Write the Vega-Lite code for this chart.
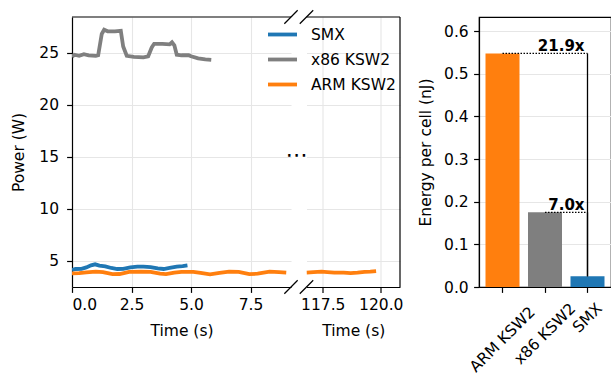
{
  "$schema": "https://vega.github.io/schema/vega-lite/v6.json",
  "padding": {"left": 11, "top": 9, "right": 0, "bottom": 0},
  "config": {
    "font": "DejaVu Sans",
    "view": {"stroke": null},
    "axis": {
      "labelFont": "DejaVu Sans", "titleFont": "DejaVu Sans",
      "labelFontSize": 15.5, "titleFontSize": 15.5,
      "labelColor": "#000", "titleColor": "#000", "titleFontWeight": "normal",
      "domainColor": "#000", "tickColor": "#000", "domainWidth": 1.2, "tickWidth": 1.2,
      "tickSize": 5.4, "labelPadding": 5.4, "titlePadding": 10,
      "gridColor": "#e6e6e6", "gridWidth": 1.1
    },
    "legend": {"labelFont": "DejaVu Sans", "labelFontSize": 15.5, "labelColor": "#000"}
  },
  "datasets": {
    "power": [
      {"series": "SMX", "time": 0.00, "power": 4.10},
      {"series": "SMX", "time": 0.15, "power": 4.20},
      {"series": "SMX", "time": 0.40, "power": 4.22},
      {"series": "SMX", "time": 0.60, "power": 4.35},
      {"series": "SMX", "time": 0.80, "power": 4.55},
      {"series": "SMX", "time": 0.97, "power": 4.65},
      {"series": "SMX", "time": 1.15, "power": 4.52},
      {"series": "SMX", "time": 1.40, "power": 4.45},
      {"series": "SMX", "time": 1.65, "power": 4.30},
      {"series": "SMX", "time": 1.90, "power": 4.20},
      {"series": "SMX", "time": 2.15, "power": 4.22},
      {"series": "SMX", "time": 2.45, "power": 4.35},
      {"series": "SMX", "time": 2.75, "power": 4.42},
      {"series": "SMX", "time": 3.00, "power": 4.43},
      {"series": "SMX", "time": 3.30, "power": 4.38},
      {"series": "SMX", "time": 3.60, "power": 4.25},
      {"series": "SMX", "time": 3.85, "power": 4.20},
      {"series": "SMX", "time": 4.10, "power": 4.30},
      {"series": "SMX", "time": 4.40, "power": 4.42},
      {"series": "SMX", "time": 4.65, "power": 4.48},
      {"series": "SMX", "time": 4.85, "power": 4.55},
      {"series": "x86 KSW2", "time": 0.00, "power": 24.60},
      {"series": "x86 KSW2", "time": 0.10, "power": 24.80},
      {"series": "x86 KSW2", "time": 0.30, "power": 24.70},
      {"series": "x86 KSW2", "time": 0.50, "power": 24.85},
      {"series": "x86 KSW2", "time": 0.70, "power": 24.75},
      {"series": "x86 KSW2", "time": 1.00, "power": 24.70},
      {"series": "x86 KSW2", "time": 1.10, "power": 24.75},
      {"series": "x86 KSW2", "time": 1.25, "power": 26.80},
      {"series": "x86 KSW2", "time": 1.35, "power": 27.20},
      {"series": "x86 KSW2", "time": 1.50, "power": 27.05},
      {"series": "x86 KSW2", "time": 1.80, "power": 27.05},
      {"series": "x86 KSW2", "time": 2.05, "power": 27.10},
      {"series": "x86 KSW2", "time": 2.15, "power": 25.60},
      {"series": "x86 KSW2", "time": 2.30, "power": 24.70},
      {"series": "x86 KSW2", "time": 2.60, "power": 24.60},
      {"series": "x86 KSW2", "time": 3.00, "power": 24.55},
      {"series": "x86 KSW2", "time": 3.20, "power": 24.65},
      {"series": "x86 KSW2", "time": 3.35, "power": 25.50},
      {"series": "x86 KSW2", "time": 3.45, "power": 25.85},
      {"series": "x86 KSW2", "time": 3.80, "power": 25.85},
      {"series": "x86 KSW2", "time": 4.10, "power": 25.80},
      {"series": "x86 KSW2", "time": 4.20, "power": 26.00},
      {"series": "x86 KSW2", "time": 4.30, "power": 25.70},
      {"series": "x86 KSW2", "time": 4.40, "power": 24.80},
      {"series": "x86 KSW2", "time": 4.60, "power": 24.75},
      {"series": "x86 KSW2", "time": 4.90, "power": 24.75},
      {"series": "x86 KSW2", "time": 5.00, "power": 24.65},
      {"series": "x86 KSW2", "time": 5.30, "power": 24.45},
      {"series": "x86 KSW2", "time": 5.60, "power": 24.35},
      {"series": "x86 KSW2", "time": 5.85, "power": 24.30},
      {"series": "ARM KSW2", "time": 0.00, "power": 3.78},
      {"series": "ARM KSW2", "time": 0.30, "power": 3.80},
      {"series": "ARM KSW2", "time": 0.60, "power": 3.88},
      {"series": "ARM KSW2", "time": 1.00, "power": 3.95},
      {"series": "ARM KSW2", "time": 1.30, "power": 3.90},
      {"series": "ARM KSW2", "time": 1.70, "power": 3.70},
      {"series": "ARM KSW2", "time": 2.00, "power": 3.72},
      {"series": "ARM KSW2", "time": 2.40, "power": 3.92},
      {"series": "ARM KSW2", "time": 2.90, "power": 3.95},
      {"series": "ARM KSW2", "time": 3.30, "power": 3.92},
      {"series": "ARM KSW2", "time": 3.70, "power": 3.75},
      {"series": "ARM KSW2", "time": 3.95, "power": 3.70},
      {"series": "ARM KSW2", "time": 4.30, "power": 3.85},
      {"series": "ARM KSW2", "time": 4.60, "power": 3.93},
      {"series": "ARM KSW2", "time": 5.10, "power": 3.93},
      {"series": "ARM KSW2", "time": 5.40, "power": 3.82},
      {"series": "ARM KSW2", "time": 5.80, "power": 3.69},
      {"series": "ARM KSW2", "time": 6.20, "power": 3.82},
      {"series": "ARM KSW2", "time": 6.60, "power": 3.95},
      {"series": "ARM KSW2", "time": 7.00, "power": 3.93},
      {"series": "ARM KSW2", "time": 7.45, "power": 3.70},
      {"series": "ARM KSW2", "time": 7.80, "power": 3.75},
      {"series": "ARM KSW2", "time": 8.30, "power": 3.95},
      {"series": "ARM KSW2", "time": 8.70, "power": 3.90},
      {"series": "ARM KSW2", "time": 9.00, "power": 3.85},
      {"series": "ARM KSW2", "time": 116.80, "power": 3.85},
      {"series": "ARM KSW2", "time": 117.10, "power": 3.90},
      {"series": "ARM KSW2", "time": 117.45, "power": 3.95},
      {"series": "ARM KSW2", "time": 117.70, "power": 3.90},
      {"series": "ARM KSW2", "time": 118.00, "power": 3.85},
      {"series": "ARM KSW2", "time": 118.40, "power": 3.85},
      {"series": "ARM KSW2", "time": 118.70, "power": 3.80},
      {"series": "ARM KSW2", "time": 119.00, "power": 3.85},
      {"series": "ARM KSW2", "time": 119.30, "power": 3.92},
      {"series": "ARM KSW2", "time": 119.55, "power": 3.95},
      {"series": "ARM KSW2", "time": 119.80, "power": 4.00}
    ],
    "energy": [
      {"name": "ARM KSW2", "energy": 0.5475},
      {"name": "x86 KSW2", "energy": 0.175},
      {"name": "SMX", "energy": 0.025}
    ],
    "ratios": [
      {"from": "ARM KSW2", "to": "SMX", "level": 0.5475, "base": 0.025, "label": "21.9x"},
      {"from": "x86 KSW2", "to": "SMX", "level": 0.175, "base": 0.025, "label": "7.0x"}
    ]
  },
  "resolve": {"legend": {"color": "independent"}},
  "spacing": 14,
  "hconcat": [
    {
      "bounds": "flush",
      "spacing": 15.5,
      "resolve": {"legend": {"color": "independent"}},
      "hconcat": [
        {
          "width": 219,
          "height": 270,
          "layer": [
            {
              "data": {"name": "power"},
              "transform": [{"filter": "datum.time < 50"}],
              "mark": {"type": "line", "strokeWidth": 3.8, "clip": true},
              "encoding": {
                "x": {"field": "time", "type": "quantitative",
                  "scale": {"domain": [0, 9.2], "nice": false, "zero": false},
                  "axis": {"values": [0, 2.5, 5, 7.5], "format": ".1f", "title": "Time (s)", "grid": true}},
                "y": {"field": "power", "type": "quantitative",
                  "scale": {"domain": [2.47, 28.43], "nice": false, "zero": false},
                  "axis": {"values": [5, 10, 15, 20, 25], "title": "Power (W)", "grid": true, "labelPadding": 8, "titlePadding": 12}},
                "color": {"field": "series", "type": "nominal",
                  "scale": {"domain": ["SMX", "x86 KSW2", "ARM KSW2"], "range": ["#1f77b4", "#7f7f7f", "#ff7f0e"]},
                  "legend": null}
              }
            },
            {
              "data": {"values": [{}]},
              "mark": {"type": "rule", "color": "#000", "strokeWidth": 1.2},
              "encoding": {"x": {"datum": 0, "type": "quantitative"}, "x2": {"datum": 9.2}, "y": {"datum": 28.43, "type": "quantitative"}}
            },
            {
              "data": {"values": [{}]},
              "mark": {"type": "rule", "color": "#000", "strokeWidth": 1.2},
              "encoding": {"x": {"datum": 8.92, "type": "quantitative"}, "x2": {"datum": 9.48}, "y": {"datum": 1.82, "type": "quantitative"}, "y2": {"datum": 3.12}}
            },
            {
              "data": {"values": [{}]},
              "mark": {"type": "rule", "color": "#000", "strokeWidth": 1.2},
              "encoding": {"x": {"datum": 8.92, "type": "quantitative"}, "x2": {"datum": 9.48}, "y": {"datum": 27.78, "type": "quantitative"}, "y2": {"datum": 29.08}}
            },
            {
              "data": {"values": [{}]},
              "mark": {"type": "text", "text": "⋯", "fontSize": 22, "color": "#000", "align": "center", "baseline": "middle", "dx": 5.5, "dy": -2},
              "encoding": {"x": {"datum": 9.2, "type": "quantitative"}, "y": {"datum": 15, "type": "quantitative"}}
            }
          ]
        },
        {
          "width": 93.5,
          "height": 270,
          "layer": [
            {
              "data": {"name": "power"},
              "transform": [{"filter": "datum.time > 50"}],
              "mark": {"type": "line", "strokeWidth": 3.8, "clip": true},
              "encoding": {
                "x": {"field": "time", "type": "quantitative",
                  "scale": {"domain": [116.8, 120.83], "nice": false, "zero": false},
                  "axis": {"values": [117.5, 120], "format": ".1f", "title": "Time (s)", "grid": true}},
                "y": {"field": "power", "type": "quantitative",
                  "scale": {"domain": [2.47, 28.43], "nice": false, "zero": false},
                  "axis": {"values": [5, 10, 15, 20, 25], "title": null, "labels": false, "ticks": false, "domain": false, "grid": true}},
                "color": {"field": "series", "type": "nominal",
                  "scale": {"domain": ["SMX", "x86 KSW2", "ARM KSW2"], "range": ["#1f77b4", "#7f7f7f", "#ff7f0e"]},
                  "legend": {"title": null, "orient": "none", "legendX": -40.5, "legendY": 1,
                    "symbolType": "stroke", "symbolSize": 841, "symbolStrokeWidth": 3.8,
                    "labelOffset": 12, "rowPadding": -7, "padding": 0}}
              }
            },
            {
              "data": {"values": [{}]},
              "mark": {"type": "rule", "color": "#000", "strokeWidth": 1.2},
              "encoding": {"x": {"datum": 116.8, "type": "quantitative"}, "x2": {"datum": 120.83}, "y": {"datum": 28.43, "type": "quantitative"}}
            },
            {
              "data": {"values": [{}]},
              "mark": {"type": "rule", "color": "#000", "strokeWidth": 1.2},
              "encoding": {"x": {"datum": 120.83, "type": "quantitative"}, "y": {"datum": 2.47, "type": "quantitative"}, "y2": {"datum": 28.43}}
            },
            {
              "data": {"values": [{}]},
              "mark": {"type": "rule", "color": "#000", "strokeWidth": 1.2},
              "encoding": {"x": {"datum": 116.51, "type": "quantitative"}, "x2": {"datum": 117.09}, "y": {"datum": 1.82, "type": "quantitative"}, "y2": {"datum": 3.12}}
            },
            {
              "data": {"values": [{}]},
              "mark": {"type": "rule", "color": "#000", "strokeWidth": 1.2},
              "encoding": {"x": {"datum": 116.51, "type": "quantitative"}, "x2": {"datum": 117.09}, "y": {"datum": 27.78, "type": "quantitative"}, "y2": {"datum": 29.08}}
            }
          ]
        }
      ]
    },
    {
      "width": 132,
      "height": 270,
      "view": {"stroke": "#000", "strokeWidth": 1.2},
      "layer": [
        {
          "data": {"name": "energy"},
          "mark": {"type": "bar"},
          "encoding": {
            "x": {"field": "name", "type": "nominal", "sort": null,
              "scale": {"domain": ["ARM KSW2", "x86 KSW2", "SMX"], "paddingInner": 0.2, "paddingOuter": 0.153},
              "axis": {"title": null, "labelAngle": -45, "labelAlign": "center", "labelBaseline": "middle",
                "labelOverlap": false, "labelBound": false, "grid": false,
                "labelPadding": {"condition": [{"test": "datum.value === 'ARM KSW2'", "value": 46.5}, {"test": "datum.value === 'x86 KSW2'", "value": 41}], "value": 25}}},
            "y": {"field": "energy", "type": "quantitative",
              "scale": {"domain": [0, 0.633], "nice": false},
              "axis": {"values": [0, 0.1, 0.2, 0.3, 0.4, 0.5, 0.6], "format": ".1f", "title": "Energy per cell (nJ)", "grid": true}},
            "color": {"field": "name", "type": "nominal",
              "scale": {"domain": ["SMX", "x86 KSW2", "ARM KSW2"], "range": ["#1f77b4", "#7f7f7f", "#ff7f0e"]},
              "legend": null}
          }
        },
        {
          "data": {"name": "ratios"},
          "mark": {"type": "rule", "color": "#000", "strokeWidth": 1.3, "strokeDash": [1.5, 1.5]},
          "encoding": {
            "x": {"field": "from", "type": "nominal", "bandPosition": 0.5},
            "x2": {"field": "to", "bandPosition": 0.5},
            "y": {"field": "level", "type": "quantitative"}
          }
        },
        {
          "data": {"name": "ratios"},
          "mark": {"type": "rule", "color": "#000", "strokeWidth": 1.3},
          "encoding": {
            "x": {"field": "to", "type": "nominal", "bandPosition": 0.5},
            "y": {"field": "level", "type": "quantitative"},
            "y2": {"field": "base"}
          }
        },
        {
          "data": {"name": "ratios"},
          "mark": {"type": "text", "fontWeight": "bold", "fontSize": 15, "color": "#000", "align": "right", "baseline": "bottom", "dx": -3, "dy": 1},
          "encoding": {
            "x": {"field": "to", "type": "nominal", "bandPosition": 0.5},
            "y": {"field": "level", "type": "quantitative"},
            "text": {"field": "label"}
          }
        }
      ]
    }
  ]
}
